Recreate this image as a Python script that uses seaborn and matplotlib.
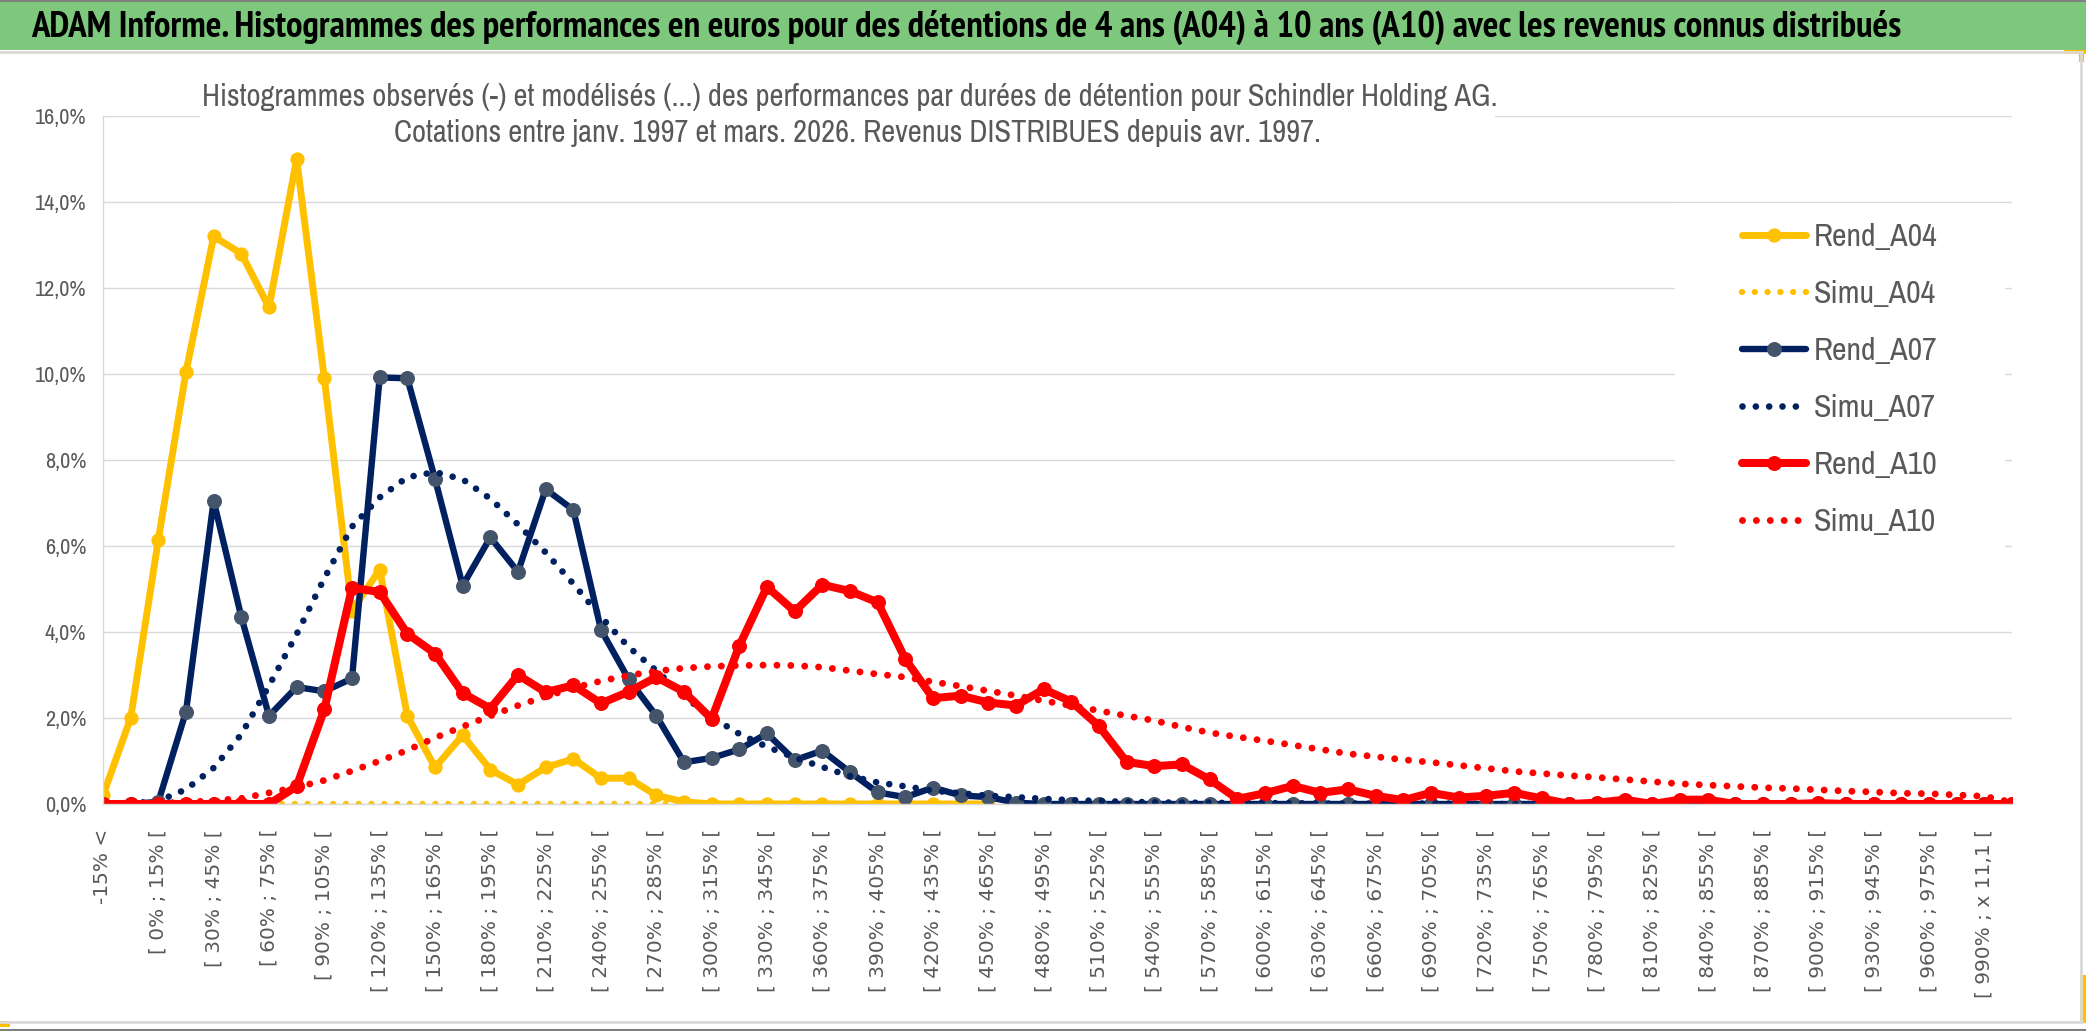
import os
import numpy as np
import matplotlib
matplotlib.use("Agg")
import matplotlib.pyplot as plt
from matplotlib import font_manager
from matplotlib.font_manager import FontProperties
from matplotlib.patches import Rectangle
from matplotlib.lines import Line2D
import seaborn as sns

# categories: bins of 15 % (every other one is labelled on the axis)
categories = ["-15% <", "[ -15% ; 0% ["] + [f"[ {a}% ; {a + 15}% [" for a in range(0, 990, 15)] \
    + ["[ 990% ; x 11,1 [", "x 11,1 <"]

# values in percent
rend_a04 = [0.2, 2.0, 6.15, 10.05, 13.2, 12.8, 11.55, 15.0, 9.9, 4.5,
            5.45, 2.05, 0.85, 1.6, 0.8, 0.45, 0.85, 1.05, 0.6, 0.6,
            0.2, 0.05, 0, 0, 0, 0, 0, 0, 0, 0,
            0, 0, 0]
simu_a04 = [0.0] * 33

rend_a07 = [0, 0, 0.05, 2.15, 7.05, 4.35, 2.05, 2.72, 2.62, 2.92,
            9.92, 9.9, 7.56, 5.08, 6.2, 5.4, 7.32, 6.84, 4.05, 2.9,
            2.05, 0.97, 1.07, 1.27, 1.64, 1.02, 1.24, 0.74, 0.27, 0.16,
            0.38, 0.2, 0.16, 0.03, 0, 0, 0, 0, 0, 0,
            0, 0, 0, 0, 0, 0, 0, 0, 0, 0,
            0, 0, 0, 0, 0, 0, 0, 0, 0, 0,
            0, 0, 0, 0, 0, 0, 0, 0, 0, 0]
simu_a07 = [0.0, 0.01, 0.07, 0.34, 0.84, 1.62, 2.75, 3.95, 5.25, 6.45,
            7.13, 7.6, 7.72, 7.55, 7.1, 6.5, 5.85, 5.12, 4.35, 3.65,
            3.1, 2.5, 2.02, 1.63, 1.33, 1.08, 0.86, 0.65, 0.5, 0.41,
            0.31, 0.25, 0.19, 0.16, 0.12, 0.09, 0.07, 0.05, 0.04, 0.03,
            0.03, 0.02, 0.02, 0.02, 0.01, 0.01, 0.01, 0.01, 0.01, 0.01,
            0, 0, 0, 0, 0, 0, 0, 0, 0, 0,
            0, 0, 0, 0, 0, 0, 0, 0, 0, 0]

rend_a10 = [0, 0, 0, 0, 0, 0, 0, 0.41, 2.2, 5.03,
            4.93, 3.96, 3.5, 2.58, 2.22, 3.0, 2.6, 2.76, 2.34, 2.61,
            2.95, 2.61, 1.98, 3.68, 5.05, 4.48, 5.1, 4.95, 4.69, 3.37,
            2.46, 2.52, 2.36, 2.29, 2.67, 2.38, 1.81, 0.98, 0.88, 0.92,
            0.57, 0.12, 0.25, 0.42, 0.26, 0.34, 0.19, 0.09, 0.26, 0.15,
            0.19, 0.26, 0.13, 0.0, 0.03, 0.1, 0.0, 0.1, 0.1, 0,
            0, 0, 0.02, 0, 0, 0, 0, 0, 0, 0]
simu_a10 = [0.01, 0.01, 0.02, 0.04, 0.08, 0.13, 0.26, 0.39, 0.55, 0.77,
            1.0, 1.25, 1.54, 1.8, 2.05, 2.29, 2.5, 2.7, 2.86, 2.99,
            3.09, 3.16, 3.2, 3.22, 3.23, 3.22, 3.18, 3.1, 3.02, 2.95,
            2.84, 2.74, 2.63, 2.52, 2.4, 2.29, 2.17, 2.05, 1.94, 1.79,
            1.66, 1.56, 1.47, 1.37, 1.27, 1.17, 1.1, 1.03, 0.97, 0.9,
            0.83, 0.76, 0.71, 0.66, 0.62, 0.57, 0.52, 0.47, 0.44, 0.41,
            0.38, 0.36, 0.33, 0.3, 0.28, 0.25, 0.24, 0.21, 0.18, 0.04]

title = ("ADAM Informe. Histogrammes des performances en euros pour des détentions "
         "de 4 ans (A04) à 10 ans (A10) avec les revenus connus distribués")
subtitle1 = ("Histogrammes observés (-) et modélisés (...) des performances par durées "
             "de détention pour Schindler Holding AG.")
subtitle2 = "Cotations entre janv. 1997 et mars. 2026. Revenus DISTRIBUES depuis avr. 1997."

YELLOW, NAVY, NAVY_MK, RED = "#FFC000", "#002060", "#44546A", "#FF0000"
GRID, GREY_TXT = "#D9D9D9", "#595959"

sns.set_style("white")
plt.rcParams["font.family"] = ["DejaVu Sans"]


def condensed_file(weight):
    # look for a narrow / condensed face, the chart uses a Calibri-like font
    found = []
    for f in font_manager.fontManager.ttflist:
        key = (f.name + " " + os.path.basename(f.fname)).lower()
        if "narrow" not in key and "condensed" not in key:
            continue
        if "italic" in key or "oblique" in key or "extra" in key or "ultra" in key:
            continue
        w = f.weight if isinstance(f.weight, (int, float)) else font_manager.weight_dict.get(f.weight, 400)
        if "narrow" in key:
            rank = 0
        elif "semicondensed" in key or "semi condensed" in key:
            rank = 1
        else:
            rank = 2
        found.append((rank, abs(w - weight), f.fname))
    if not found:
        return None
    found.sort()
    return found[0][2]


def cfont(size, weight=480):
    path = condensed_file(weight)
    if path:
        return FontProperties(fname=path, size=size)
    return FontProperties(family="Liberation Sans", weight="bold" if weight > 600 else "normal", size=size)


W, H = 2086, 1031
fig = plt.figure(figsize=(W / 100, H / 100), dpi=100)
fig.patch.set_facecolor("white")


def fx(px):
    return px / W


def fy(py):
    return 1 - py / H


ax = fig.add_axes([fx(103), fy(804), fx(2012 - 103), (804 - 116) / H])
ax.set_axisbelow(True)

dots = (0, (0.001, 2.0))
series = [
    ("Rend_A04", rend_a04, dict(color=YELLOW, linewidth=5.0, marker="o", markersize=9.5,
                                markerfacecolor=YELLOW, markeredgecolor=YELLOW)),
    ("Simu_A04", simu_a04, dict(color=YELLOW, linewidth=4.6, linestyle=dots, dash_capstyle="round")),
    ("Rend_A07", rend_a07, dict(color=NAVY, linewidth=4.6, marker="o", markersize=10,
                                markerfacecolor=NAVY_MK, markeredgecolor=NAVY_MK)),
    ("Simu_A07", simu_a07, dict(color=NAVY, linewidth=4.8, linestyle=dots, dash_capstyle="round")),
    ("Rend_A10", rend_a10, dict(color=RED, linewidth=5.8, marker="o", markersize=10,
                                markerfacecolor=RED, markeredgecolor=RED)),
    ("Simu_A10", simu_a10, dict(color=RED, linewidth=5.0, linestyle=dots, dash_capstyle="round")),
]
for name, vals, kw in series:
    xs = np.arange(len(vals))
    sns.lineplot(x=xs, y=np.array(vals, dtype=float) / 100, ax=ax, label=name,
                 sort=False, errorbar=None, solid_joinstyle="round", solid_capstyle="round",
                 **kw)

ax.set_xlim(0, len(categories) - 1)
ax.set_ylim(0, 0.16)
yt = np.arange(0, 0.161, 0.02)
ax.set_yticks(yt)
ax.set_yticklabels([f"{v * 100:.1f}%".replace(".", ",") for v in yt],
                   fontproperties=cfont(16), color=GREY_TXT)
xt = np.arange(0, len(categories), 2)
ax.set_xticks(xt)
ax.set_xticklabels([categories[i] for i in xt], rotation=90, fontsize=14.5,
                   color=GREY_TXT, va="top", ha="center")
ax.set_xticks(np.arange(0, len(categories), 4), minor=True)
ax.tick_params(axis="both", which="both", length=0)
ax.tick_params(axis="x", pad=18)
ax.tick_params(axis="y", pad=12)
ax.grid(axis="y", which="major", color=GRID, linewidth=1.0)
ax.grid(axis="x", which="minor", color=GRID, linewidth=1.0)
ax.grid(axis="x", which="major", visible=False)
for s in ["top", "right"]:
    ax.spines[s].set_visible(False)
for s in ["left", "bottom"]:
    ax.spines[s].set_color(GRID)
    ax.spines[s].set_linewidth(1.0)
ax.set_xlabel("")
ax.set_ylabel("")

# white boxes behind the chart title and the legend
for x0, y0, x1, y1 in [(200, 68, 1495, 157), (1675, 203, 2005, 548)]:
    ax.add_patch(Rectangle((fx(x0), fy(y1)), fx(x1 - x0), (y1 - y0) / H,
                           transform=fig.transFigure, facecolor="white",
                           edgecolor="none", zorder=1.5, clip_on=False))

handles, labels = ax.get_legend_handles_labels()
leg = ax.legend(handles, labels, loc="upper left", bbox_to_anchor=(fx(1742), fy(223)),
                bbox_transform=fig.transFigure, frameon=False, handlelength=2.0,
                handletextpad=0.25, labelspacing=0.91, borderpad=0, borderaxespad=0,
                numpoints=1, prop=cfont(23), labelcolor=GREY_TXT)
leg.set_zorder(5)

# green banner on top and the chart frame
fig.patches.append(Rectangle((0, fy(50)), 1, 50 / H, transform=fig.transFigure,
                             facecolor="#7EC87E", edgecolor="none", zorder=0))
fig.add_artist(Line2D([0, fx(2082)], [fy(52), fy(52)], color=GRID, linewidth=2))
fig.add_artist(Line2D([0, 1], [fy(1), fy(1)], color="#7F7F7F", linewidth=1.5))
fig.add_artist(Line2D([0, fx(2082)], [fy(1022), fy(1022)], color=GRID, linewidth=2))
fig.add_artist(Line2D([0, 1], [fy(1030), fy(1030)], color="#7F7F7F", linewidth=1.5))
fig.add_artist(Line2D([fx(2081), fx(2081)], [fy(52), fy(1022)], color=GRID, linewidth=2))
for x0, y0, w, h in [(0, 1021, 10, 6), (2064, 50, 22, 4), (2079, 52, 5, 10), (2080, 975, 6, 48)]:
    fig.patches.append(Rectangle((fx(x0), fy(y0 + h)), fx(w), h / H, transform=fig.transFigure,
                                 facecolor=YELLOW, edgecolor="none"))

t_title = fig.text(fx(31), fy(27), title, fontproperties=cfont(26, weight=700),
                   color="black", ha="left", va="center")
t_sub1 = fig.text(fx(850), fy(97), subtitle1, fontproperties=cfont(20),
                  color=GREY_TXT, ha="center", va="center", zorder=6)
t_sub2 = fig.text(fx(858), fy(133), subtitle2, fontproperties=cfont(20),
                  color=GREY_TXT, ha="center", va="center", zorder=6)

# scale the long texts to the width they take in the picture
fig.canvas.draw()
renderer = fig.canvas.get_renderer()
for txt, target in [(t_title, 1872), (t_sub1, 1290)]:
    w = txt.get_window_extent(renderer).width
    txt.set_fontsize(txt.get_fontsize() * target / w)
t_sub2.set_fontsize(t_sub1.get_fontsize())

fig.savefig("out.png", dpi=100, facecolor="white")
